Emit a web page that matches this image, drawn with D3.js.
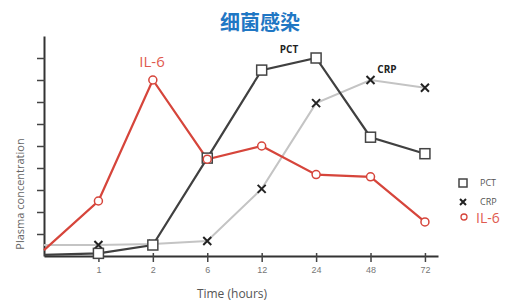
<!DOCTYPE html>
<html>
<head>
<meta charset="utf-8">
<script src="https://cdn.jsdelivr.net/npm/d3@7"></script>
<style>
  body { margin: 0; background: #fff; }
  svg { display: block; font-family: "Open Sans", "DejaVu Sans", sans-serif; }
</style>
</head>
<body>
<svg width="512" height="302"></svg>
<script>
const times = ["0", "1", "2", "6", "12", "24", "48", "72"];
const tickLabels = ["1", "2", "6", "12", "24", "48", "72"];
const pctValues = [0.05, 0.12, 0.5, 4.45, 8.45, 9.0, 5.4, 4.65];
const crpValues = [0.5, 0.5, 0.55, 0.68, 3.05, 6.95, 8.0, 7.65];
const il6Values = [0.27, 2.5, 8.0, 4.4, 5.0, 3.7, 3.6, 1.55];

const svg = d3.select("svg");

const x = d3.scalePoint()
    .domain(times)
    .range([44, 438])
    .padding(0.12)
    .align(0);

const y = d3.scaleLinear()
    .domain([0, 10])
    .range([256, 36]);

// title
svg.append("text")
    .attr("x", 260)
    .attr("y", 30)
    .attr("text-anchor", "middle")
    .attr("font-family", "Noto Sans CJK SC")
    .attr("font-weight", "bold")
    .attr("font-size", "20px")
    .attr("fill", "#1f77c4")
    .text("细菌感染");

// y axis
const yAxis = svg.append("g")
    .attr("transform", "translate(44,0)")
    .call(d3.axisLeft(y).tickValues(d3.range(1, 10)).tickSize(7).tickSizeOuter(0).tickFormat(""));
yAxis.select(".domain").attr("stroke", "#333").attr("stroke-width", 2);
yAxis.selectAll(".tick line").attr("stroke", "#444").attr("stroke-width", 1.5).attr("x1", 1);

// x axis
const xAxis = svg.append("g")
    .attr("transform", "translate(0,256)")
    .call(d3.axisBottom(x).tickValues(tickLabels).tickSize(6).tickSizeOuter(0));
xAxis.select(".domain").attr("stroke", "#333").attr("stroke-width", 2);
xAxis.selectAll(".tick line").attr("stroke", "#444").attr("stroke-width", 1.5).attr("y1", -3);
xAxis.selectAll(".tick text")
    .attr("y", 11)
    .attr("font-size", "9px")
    .attr("fill", "#777");

svg.append("text")
    .attr("x", 232)
    .attr("y", 298)
    .attr("text-anchor", "middle")
    .attr("font-size", "12px")
    .attr("fill", "#555")
    .text("Time (hours)");

svg.append("text")
    .attr("transform", "rotate(-90)")
    .attr("x", -194)
    .attr("y", 24)
    .attr("text-anchor", "middle")
    .attr("font-size", "11px")
    .attr("fill", "#666")
    .text("Plasma concentration");

const line = d3.line()
    .x((d, i) => x(times[i]))
    .y(d => y(d));

svg.append("path")
    .datum(crpValues)
    .attr("d", line)
    .attr("fill", "none")
    .attr("stroke", "#c4c4c4")
    .attr("stroke-width", 2);

svg.append("path")
    .datum(pctValues)
    .attr("d", line)
    .attr("fill", "none")
    .attr("stroke", "#404040")
    .attr("stroke-width", 2.2);

svg.append("path")
    .datum(il6Values)
    .attr("d", line)
    .attr("fill", "none")
    .attr("stroke", "#d6453b")
    .attr("stroke-width", 2.2);

// CRP x markers (skip the origin point)
const crpMarks = svg.selectAll(".crp")
    .data(crpValues.slice(1))
    .enter()
    .append("g")
    .attr("class", "crp")
    .attr("transform", (d, i) => `translate(${x(times[i + 1])},${y(d)})`);
crpMarks.append("path")
    .attr("d", "M-4,-4L4,4M-4,4L4,-4")
    .attr("stroke", "#222")
    .attr("stroke-width", 2);

// PCT square markers
svg.selectAll(".pct")
    .data(pctValues.slice(1))
    .enter()
    .append("rect")
    .attr("class", "pct")
    .attr("x", (d, i) => x(times[i + 1]) - 5)
    .attr("y", d => y(d) - 5)
    .attr("width", 10)
    .attr("height", 10)
    .attr("fill", "#fff")
    .attr("stroke", "#444")
    .attr("stroke-width", 1.5);

// IL-6 circle markers
svg.selectAll(".il6")
    .data(il6Values.slice(1))
    .enter()
    .append("circle")
    .attr("class", "il6")
    .attr("cx", (d, i) => x(times[i + 1]))
    .attr("cy", d => y(d))
    .attr("r", 4)
    .attr("fill", "#fff")
    .attr("stroke", "#d6453b")
    .attr("stroke-width", 1.5);

// series labels
svg.append("text")
    .attr("x", 152)
    .attr("y", 67)
    .attr("text-anchor", "middle")
    .attr("font-size", "15px")
    .attr("fill", "#df5a4f")
    .text("IL-6");

svg.append("text")
    .attr("x", 289)
    .attr("y", 53)
    .attr("text-anchor", "middle")
    .attr("font-size", "10px")
    .attr("font-weight", "bold")
    .attr("fill", "#222")
    .text("PCT");

svg.append("text")
    .attr("x", 387)
    .attr("y", 73)
    .attr("text-anchor", "middle")
    .attr("font-size", "10px")
    .attr("font-weight", "bold")
    .attr("fill", "#222")
    .text("CRP");

// legend
const legend = svg.append("g").attr("transform", "translate(463,0)");
legend.append("rect")
    .attr("x", -4).attr("y", 179)
    .attr("width", 8).attr("height", 8)
    .attr("fill", "#fff").attr("stroke", "#444").attr("stroke-width", 1.5);
legend.append("text")
    .attr("x", 17).attr("y", 186)
    .attr("font-size", "9px").attr("fill", "#555")
    .text("PCT");
legend.append("path")
    .attr("d", "M-3,199L3,205M-3,205L3,199")
    .attr("stroke", "#222").attr("stroke-width", 2);
legend.append("text")
    .attr("x", 17).attr("y", 205)
    .attr("font-size", "9px").attr("fill", "#555")
    .text("CRP");
legend.append("circle")
    .attr("cx", 1).attr("cy", 217).attr("r", 3)
    .attr("fill", "#fff").attr("stroke", "#d6453b").attr("stroke-width", 1.3);
legend.append("text")
    .attr("x", 13).attr("y", 223)
    .attr("font-size", "14px").attr("fill", "#df5a4f")
    .text("IL-6");
</script>
</body>
</html>
